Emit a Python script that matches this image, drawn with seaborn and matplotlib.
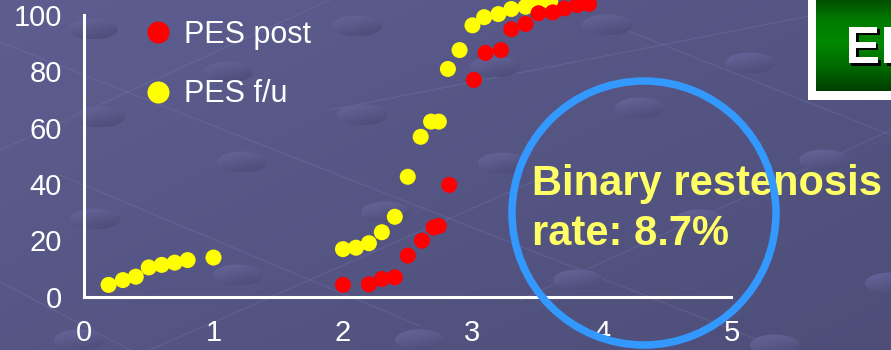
import numpy as np
import pandas as pd
import matplotlib
matplotlib.use("Agg")
import matplotlib.pyplot as plt
import matplotlib.patheffects as pe
from matplotlib.patches import Ellipse, Rectangle, Circle
from matplotlib.colors import LinearSegmentedColormap
import seaborn as sns

# ---- data -------------------------------------------------------------
post_x = [2.0, 2.2, 2.3, 2.4, 2.5, 2.61, 2.7, 2.74, 2.82, 3.01, 3.1, 3.22,
          3.3, 3.41, 3.51, 3.62, 3.71, 3.81, 3.9]
post_y = [4.2, 4.4, 6.3, 6.9, 14.6, 19.9, 24.6, 25.1, 39.7, 77.0, 86.6, 87.6,
          95.0, 96.9, 100.7, 101.0, 102.4, 103.6, 104.0]
fu_x = [0.19, 0.3, 0.4, 0.5, 0.6, 0.7, 0.8, 1.0, 2.0, 2.1, 2.2, 2.3, 2.4,
        2.5, 2.6, 2.68, 2.74, 2.81, 2.9, 3.0, 3.09, 3.2, 3.3, 3.41, 3.5, 3.6]
fu_y = [4.2, 5.9, 7.1, 10.4, 11.3, 12.1, 13.0, 13.9, 16.9, 17.4, 19.0, 22.9,
        28.4, 42.6, 56.8, 62.2, 62.2, 80.9, 87.6, 96.4, 99.3, 100.4, 102.2,
        103.0, 104.1, 104.8]
series_names = ["PES post", "PES f/u"]
series_colors = ["#ff0000", "#ffff00"]
x_ticks = [0, 1, 2, 3, 4, 5]
y_ticks = [0, 20, 40, 60, 80, 100]
note_lines = ["Binary restenosis", "rate: 8.7%"]
badge_text = "EE"

# ---- style ------------------------------------------------------------
sns.set_style("white")
plt.rcParams["font.family"] = ["Liberation Sans", "DejaVu Sans"]

W, H = 891, 350
fig = plt.figure(figsize=(W / 100, H / 100), dpi=100)

# slide background in pixel coordinates
bg = fig.add_axes([0, 0, 1, 1], zorder=0)
bg.set_xlim(0, W)
bg.set_ylim(H, 0)
bg.axis("off")
yy, xx = np.mgrid[0:1:200j, 0:1:400j]
grad = 0.55 * xx + 0.45 * yy
bg_cmap = LinearSegmentedColormap.from_list("bg", ["#5d5d90", "#4e4e79"])
bg.imshow(grad, extent=(0, W, H, 0), cmap=bg_cmap, aspect="auto",
          interpolation="bilinear", zorder=0)

# faint network lines of the slide template
for (x0, y0, x1, y1) in [(0, 42, W, 392), (60, 175, 420, 326), (0, 282, 140, 355),
                         (0, 150, 330, 0), (330, 110, 891, 0), (520, 300, 891, 130),
                         (600, 20, 891, 135), (150, 350, 560, 170)]:
    bg.plot([x0, x1], [y0, y1], color="#7a7ab0", lw=0.9, alpha=0.3, zorder=1)

# soft bumps of the slide template
bump_cmap = LinearSegmentedColormap.from_list("bump", ["#66669c", "#4b4b76"])
bumps = [(93, 29), (100, 117), (228, 72), (242, 162), (95, 219), (238, 275),
         (79, 340), (357, 26), (362, 115), (495, 67), (503, 163), (386, 212),
         (420, 340), (578, 280), (607, 25), (750, 63), (640, 108), (824, 160),
         (700, 220), (890, 283), (775, 345)]
by, bx = np.mgrid[0:1:40j, 0:1:80j]
bump_grad = 0.35 * bx + 0.65 * by
for cx, cy in bumps:
    e = Ellipse((cx, cy), 50, 21, transform=bg.transData, facecolor="none",
                edgecolor="none")
    bg.add_patch(e)
    im = bg.imshow(bump_grad, extent=(cx - 25, cx + 25, cy + 10.5, cy - 10.5),
                   cmap=bump_cmap, aspect="auto", interpolation="bilinear",
                   zorder=2)
    im.set_clip_path(e)
bg.set_xlim(0, W)
bg.set_ylim(H, 0)

# ---- scatter chart ----------------------------------------------------
x0_px, x_scale = 84.0, 129.5
y0_px, y_scale = 296.7, 2.815
ax = fig.add_axes([0, 0, 1, 1], zorder=1)
ax.patch.set_alpha(0)
ax.set_xlim(-x0_px / x_scale, (W - x0_px) / x_scale)
ax.set_ylim((y0_px - H) / y_scale, y0_px / y_scale)

df = pd.DataFrame({
    "x": fu_x + post_x,
    "y": fu_y + post_y,
    "series": [series_names[1]] * len(fu_x) + [series_names[0]] * len(post_x),
})
sns.scatterplot(data=df, x="x", y="y", hue="series", hue_order=series_names,
                palette=dict(zip(series_names, series_colors)), s=133,
                linewidth=0, ax=ax, legend=True)

for side in ["top", "right"]:
    ax.spines[side].set_visible(False)
ax.spines["left"].set_position(("data", 0))
ax.spines["bottom"].set_position(("data", 0))
ax.spines["left"].set_bounds(0, 100)
ax.spines["bottom"].set_bounds(0, 5)
for side in ["left", "bottom"]:
    ax.spines[side].set_color("white")
    ax.spines[side].set_linewidth(2.2)
ax.set_xticks(x_ticks)
ax.set_yticks(y_ticks)
ax.tick_params(axis="both", direction="out", length=10.5, width=2.2,
               colors="white", labelsize=21)
ax.tick_params(axis="x", pad=5.5)
ax.tick_params(axis="y", pad=5.5)
ax.set_xlabel("")
ax.set_ylabel("")

handles, labels = ax.get_legend_handles_labels()
ax.legend(handles, labels, loc="upper left",
          bbox_to_anchor=(142.7 / W, 1 - 19.5 / H), bbox_transform=fig.transFigure,
          frameon=False, borderpad=0, borderaxespad=0, handlelength=1.0,
          handletextpad=0.34, labelspacing=0.98, fontsize=22, labelcolor="white",
          markerscale=1.375)

# ---- annotations ------------------------------------------------------
ov = fig.add_axes([0, 0, 1, 1], zorder=2)
ov.patch.set_alpha(0)
ov.axis("off")

ov.text(532, 195, note_lines[0], color="#ffff66", fontsize=30, fontweight="bold",
        va="baseline", ha="left", zorder=3)
ov.text(532, 245, note_lines[1], color="#ffff66", fontsize=30, fontweight="bold",
        va="baseline", ha="left", zorder=3)
ov.add_patch(Circle((644, 213), 132, facecolor="none", edgecolor="#3399ff",
                    linewidth=5.4, zorder=4))

# green badge in the corner
ov.add_patch(Rectangle((808, -20), 120, 120, facecolor="white", edgecolor="none",
                       zorder=1))
gy = np.linspace(0, 1, 100)[:, None]
green = LinearSegmentedColormap.from_list(
    "green", ["#004400", "#007a00", "#008800", "#006a00", "#003f00"])
ov.imshow(np.repeat(gy, 10, axis=1), extent=(816, W + 5, 91, -5), cmap=green,
          aspect="auto", interpolation="bilinear", zorder=2)
ov.text(845, 63, badge_text, color="white", fontsize=38, fontweight="bold",
        va="baseline", ha="left", zorder=3,
        path_effects=[pe.withSimplePatchShadow(offset=(2, -2),
                                               shadow_rgbFace="black", alpha=1),
                      pe.Normal()])
ov.set_xlim(0, W)
ov.set_ylim(H, 0)

fig.savefig("out.png", dpi=100)
